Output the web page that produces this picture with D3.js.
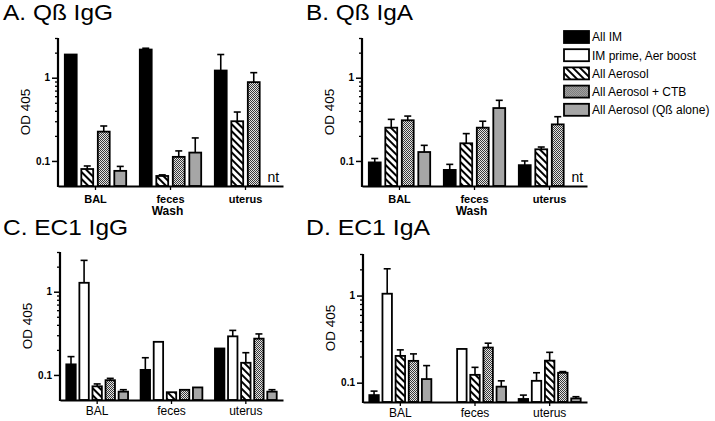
<!DOCTYPE html>
<html><head><meta charset="utf-8">
<script src="https://cdn.jsdelivr.net/npm/d3@7"></script>
<style>body{margin:0;background:#fff}svg{display:block;font-family:"Liberation Sans",Arial,sans-serif}</style>
</head><body><svg id="chart" width="715" height="421"></svg>
<script>
// ---------- data ----------
const categories = ["BAL", "feces", "uterus"];
const seriesNames = ["All IM", "IM prime, Aer boost", "All Aerosol", "All Aerosol + CTB", "All Aerosol (Qß alone)"];
const yMajorTicks = [0.1, 1];
const yMinorTicks = [0.2, 0.3, 0.4, 0.5, 0.6, 0.7, 0.8, 0.9, 2, 3];
const xAxisTitle = "Wash";
const yAxisTitle = "OD 405";
const notTested = "nt";

// Panel A: Qß IgG  (series indices shown, rows = series, columns = categories)
const qbIgGSeries = [0, 2, 3, 4];
const qbIgGMean = [[1.90, 2.18, 1.22], [0.080, 0.066, 0.30], [0.225, 0.112, 0.885], [0.076, 0.126, "nt"]];
const qbIgGErrTop = [[1.95, 2.26, 1.90], [0.087, 0.068, 0.387], [0.263, 0.132, 1.15], [0.086, 0.189, null]];

// Panel B: Qß IgA
const qbIgASeries = [0, 2, 3, 4];
const qbIgAMean = [[0.096, 0.078, 0.089], [0.251, 0.163, 0.138], [0.308, 0.251, 0.275], [0.128, 0.432, "nt"]];
const qbIgAErrTop = [[0.107, 0.091, 0.100], [0.316, 0.213, 0.147], [0.346, 0.300, 0.340], [0.154, 0.535, null]];

// Panel C: EC1 IgG
const ec1IgGSeries = [0, 1, 2, 3, 4];
const ec1IgGMean = [[0.134, 0.115, 0.208], [1.28, 0.250, 0.291], [0.073, 0.062, 0.140], [0.0865, 0.0663, 0.273], [0.063, 0.0708, 0.063]];
const ec1IgGErrTop = [[0.166, 0.161, 0.208], [2.38, 0.255, 0.343], [0.078, 0.063, 0.185], [0.091, 0.068, 0.311], [0.0665, 0.072, 0.0665]];

// Panel D: EC1 IgA
const ec1IgASeries = [0, 1, 2, 3, 4];
const ec1IgAMean = [[0.072, null, 0.065], [1.05, 0.244, 0.105], [0.203, 0.123, 0.179], [0.178, 0.253, 0.130], [0.110, 0.090, 0.066]];
const ec1IgAErrTop = [[0.080, null, 0.072], [2.03, 0.246, 0.130], [0.238, 0.150, 0.223], [0.214, 0.284, 0.134], [0.157, 0.105, 0.069]];

// ---------- layout ----------
const panels = [
  {title: "A. Qß IgG", tx: 3, ty: 20, tlen: 110, x0: 58, x1: 283, yTop: 38, yBot: 186, dom: [0.05, 3],
   series: qbIgGSeries, mean: qbIgGMean, err: qbIgGErrTop, bold: true, wash: true},
  {title: "B. Qß IgA", tx: 306, ty: 20, tlen: 107, x0: 362, x1: 587, yTop: 38, yBot: 186, dom: [0.05, 3],
   series: qbIgASeries, mean: qbIgAMean, err: qbIgAErrTop, bold: true, wash: true},
  {title: "C. EC1 IgG", tx: 3, ty: 235, tlen: 125, x0: 60, x1: 283, yTop: 252, yBot: 400, dom: [0.05, 3],
   series: ec1IgGSeries, mean: ec1IgGMean, err: ec1IgGErrTop, bold: false, wash: false},
  {title: "D. EC1 IgA", tx: 306, ty: 235, tlen: 124, x0: 363, x1: 587, yTop: 254, yBot: 402, dom: [0.06, 3],
   series: ec1IgASeries, mean: ec1IgAMean, err: ec1IgAErrTop, bold: false, wash: false}
];

const svg = d3.select("#chart");
const defs = svg.append("defs");
const hatch = defs.append("pattern").attr("id", "hatch").attr("patternUnits", "userSpaceOnUse")
  .attr("width", 5).attr("height", 5).attr("patternTransform", "rotate(-45)");
hatch.append("rect").attr("width", 5).attr("height", 5).attr("fill", "#fff");
hatch.append("rect").attr("width", 2).attr("height", 5).attr("fill", "#000");
const check = defs.append("pattern").attr("id", "check").attr("patternUnits", "userSpaceOnUse")
  .attr("width", 2).attr("height", 2);
check.append("rect").attr("width", 2).attr("height", 2).attr("fill", "#e4e4e4");
check.append("rect").attr("width", 1).attr("height", 1).attr("fill", "#3a3a3a");
check.append("rect").attr("x", 1).attr("y", 1).attr("width", 1).attr("height", 1).attr("fill", "#3a3a3a");

const fills = ["#000", "#fff", "url(#hatch)", "url(#check)", "#a6a6a6"];

panels.forEach(p => {
  const g = svg.append("g");
  const x = d3.scaleBand().domain(categories).range([p.x0, p.x1]).padding(0);
  const y = d3.scaleLog().domain(p.dom).range([p.yBot, p.yTop]);
  const groupW = x.bandwidth() * 0.88;
  const slot = d3.scaleBand().domain(d3.range(p.series.length))
    .range([-groupW / 2, groupW / 2]).paddingInner(0.28).paddingOuter(0.14);
  const bw = slot.bandwidth();

  // title
  g.append("text").attr("x", p.tx).attr("y", p.ty).attr("font-size", 22)
    .attr("textLength", p.tlen).attr("lengthAdjust", "spacingAndGlyphs").text(p.title);

  // bars
  p.series.forEach((s, si) => {
    categories.forEach((c, ci) => {
      const v = p.mean[si][ci];
      const cx = x(c) + x.bandwidth() / 2 + slot(si) + bw / 2;
      if (v === notTested) {
        g.append("text").attr("x", cx + 3).attr("y", p.yBot - 4).attr("font-size", 14)
          .attr("text-anchor", "middle").text(notTested);
        return;
      }
      if (v == null || v <= p.dom[0]) return;
      g.append("rect").attr("x", cx - bw / 2).attr("y", y(v)).attr("width", bw)
        .attr("height", p.yBot - y(v)).attr("fill", fills[s])
        .attr("stroke", "#000").attr("stroke-width", 1.8);
      const e = p.err[si][ci];
      if (e != null && y(v) - y(e) > 1) {
        g.append("line").attr("x1", cx).attr("x2", cx).attr("y1", y(v)).attr("y2", y(e))
          .attr("stroke", "#000").attr("stroke-width", 1.6);
        g.append("line").attr("x1", cx - 3.5).attr("x2", cx + 3.5).attr("y1", y(e)).attr("y2", y(e))
          .attr("stroke", "#000").attr("stroke-width", 1.6);
      }
    });
  });

  // y axis minor
  const yMinor = g.append("g").attr("transform", `translate(${p.x0},0)`)
    .call(d3.axisLeft(y).tickValues(yMinorTicks).tickSize(3).tickSizeOuter(0).tickFormat(""));
  yMinor.select(".domain").remove();
  yMinor.selectAll("line").attr("stroke-width", 1.3);
  // y axis major
  const yMaj = g.append("g").attr("transform", `translate(${p.x0},0)`)
    .call(d3.axisLeft(y).tickValues(yMajorTicks).tickSize(6).tickSizeOuter(0).tickPadding(2)
      .tickFormat(d => d3.format("")(d)));
  yMaj.select(".domain").attr("stroke-width", 2.2).attr("d", `M0,${p.yBot + 1}V${p.yTop}`);
  yMaj.selectAll(".tick line").attr("stroke-width", 1.5);
  yMaj.selectAll("text").attr("font-size", 10).attr("font-weight", "bold")
    .attr("font-family", '"Liberation Sans",Arial,sans-serif').attr("fill", "#000");

  // x axis
  const xAx = g.append("g").attr("transform", `translate(0,${p.yBot})`)
    .call(d3.axisBottom(x).tickSize(4).tickSizeOuter(0).tickPadding(p.bold ? 5 : 2.5));
  xAx.select(".domain").attr("stroke-width", 2.2);
  xAx.selectAll(".tick line").attr("stroke-width", 1.3);
  xAx.selectAll("text").attr("font-size", p.bold ? 11 : 12).attr("font-weight", p.bold ? "bold" : "normal")
    .attr("font-family", '"Liberation Sans",Arial,sans-serif').attr("fill", "#000");

  // y title
  g.append("text").attr("transform", `translate(${p.x0 - 28},${(p.yTop + p.yBot) / 2}) rotate(-90)`)
    .attr("text-anchor", "middle").attr("font-size", 13.5).text(yAxisTitle);

  if (p.wash) {
    g.append("text").attr("x", (p.x0 + p.x1) / 2 - 3).attr("y", p.yBot + 29)
      .attr("text-anchor", "middle").attr("font-size", 12).attr("font-weight", "bold").text(xAxisTitle);
  }
});

// legend
const leg = svg.append("g").attr("transform", "translate(564,31)");
seriesNames.forEach((n, i) => {
  const r = leg.append("g").attr("transform", `translate(0,${i * 18.2})`);
  r.append("rect").attr("width", 25).attr("height", 12).attr("fill", fills[i])
    .attr("stroke", "#000").attr("stroke-width", 1.8);
  r.append("text").attr("x", 28).attr("y", 6).attr("dy", "0.36em").attr("font-size", 12).text(n);
});
</script></body></html>
